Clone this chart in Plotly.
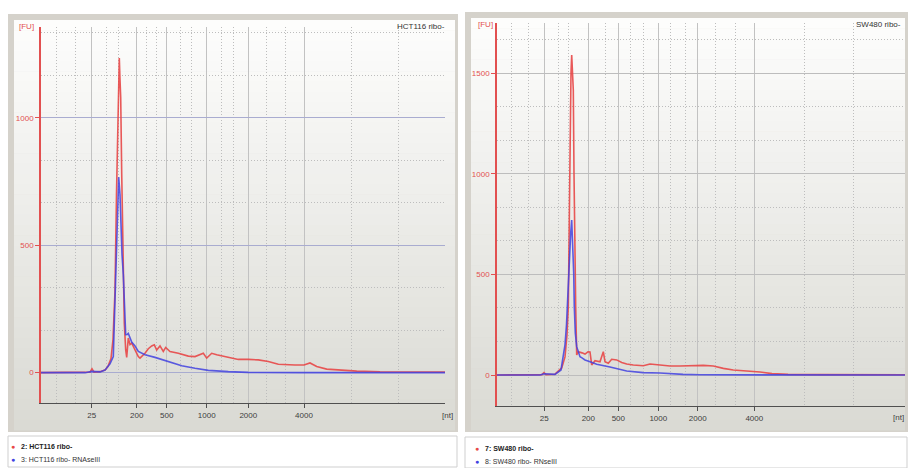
import plotly.graph_objects as go

W, H = 908, 468

# ---------------- data (x = migration time, s; y = fluorescence, FU) -------------
# Left panel: HCT116
hct_red_t = [20.0, 24.4, 24.9, 25.1, 25.3, 25.9, 26.4, 26.7, 27.0, 27.2, 27.4, 27.55, 27.7, 27.83,
             27.9, 27.97, 28.07, 28.17, 28.33, 28.47, 28.57, 28.73, 28.9, 29.07, 29.4, 29.73, 29.9,
             30.4, 30.73, 31.07, 31.33, 31.57, 31.9, 32.23, 32.47, 32.9, 33.73, 34.73, 35.4, 36.23,
             36.57, 37.07, 37.57, 38.4, 39.07, 39.73, 40.73, 41.73, 42.73, 43.73, 45.4, 46.3, 46.9,
             47.57, 48.57, 49.9, 51.57, 53.9, 60.4]
hct_red_fu = [0, 0, 2, 15, 2, 4, 10, 25, 55, 130, 320, 700, 1050, 1234,
              1150, 1081, 783, 495, 194, 89, 60, 136, 110, 116, 92, 63, 57,
              76, 94, 105, 109, 89, 105, 83, 99, 83, 76, 65, 63, 76,
              57, 76, 70, 63, 60, 52, 52, 50, 44, 33, 30, 30, 38,
              24, 14, 10, 6, 3, 2]
hct_blue_t = [20.0, 24.4, 25.1, 25.9, 26.4, 26.9, 27.23, 27.47, 27.63, 27.77, 27.9, 28.0, 28.1,
              28.23, 28.33, 28.47, 28.63, 28.73, 29.07, 29.4, 29.73, 30.4, 31.4, 32.07, 33.07,
              34.07, 35.4, 36.73, 38.73, 40.7, 45.9, 60.4]
hct_blue_fu = [0, 0, 5, 3, 10, 35, 63, 391, 653, 767, 699, 568, 464,
               385, 254, 149, 150, 154, 120, 105, 83, 70, 60, 52, 37,
               27, 17, 9, 4, 1, 0, 0]

# Right panel: SW480
sw_red_t = [20.0, 24.3, 24.5, 24.7, 24.9, 25.8, 26.47, 26.8, 27.0, 27.13, 27.23, 27.3, 27.4, 27.47,
            27.63, 27.7, 27.77, 27.87, 27.97, 28.13, 28.5, 28.8, 29.1, 29.3, 29.47, 29.8, 30.3,
            30.63, 30.8, 31.13, 31.47, 31.97, 32.47, 32.97, 33.63, 34.63, 35.3, 36.3, 37.3, 38.3,
            39.63, 40.63, 41.63, 42.63, 43.63, 44.97, 46.3, 47.5, 49.1, 52.3, 60.8]
sw_red_fu = [0, 0, 2, 12, 2, 4, 35, 90, 200, 339, 836, 1167, 1500, 1590,
             1416, 1003, 588, 339, 100, 116, 110, 104, 115, 114, 50, 71, 66,
             116, 66, 58, 78, 75, 62, 55, 50, 46, 55, 50, 45, 45,
             48, 48, 45, 33, 25, 21, 15, 7, 3, 2, 1]
sw_blue_t = [20.0, 24.3, 24.7, 25.8, 26.4, 26.8, 26.95, 27.1, 27.25, 27.37, 27.47, 27.57, 27.67,
             27.73, 27.83, 27.97, 28.13, 28.3, 28.5, 28.8, 29.3, 29.97, 31.3, 32.97, 34.6, 36.3,
             38.6, 40.3, 60.8]
sw_blue_fu = [0, 0, 6, 3, 25, 150, 250, 430, 600, 705, 770, 671, 507,
              339, 209, 141, 116, 91, 85, 75, 66, 53, 40, 20, 12, 10,
              3, 1, 0]

# tick positions (time) and labels (nt)
nt_labels = ["25", "200", "500", "1000", "2000", "4000"]
hct_ticks = [25.07, 29.57, 32.57, 36.57, 40.73, 46.3]
hct_minor = [21.57, 23.4, 26.57, 27.73, 30.57, 31.57, 33.9, 35.07, 38.07, 39.23,
             42.57, 44.4, 51.07, 55.73, 60.4]
sw_ticks = [24.73, 29.13, 32.13, 36.13, 40.07, 45.73]
sw_minor = [21.47, 23.13, 26.13, 27.13, 30.8, 33.3, 34.63, 37.3, 38.8, 41.8,
            43.8, 50.73, 55.63]
hct_yticks = [0, 500, 1000]
sw_yticks = [0, 500, 1000, 1500]

titles = ["HCT116 ribo-", "SW480 ribo-"]
legend_left = ["2: HCT116 ribo-", "3: HCT116 ribo- RNAseIII"]
legend_right = ["7: SW480 ribo-", "8: SW480 ribo- RNseIII"]

# ---------------- styling ----------------
RED = "rgb(232,72,72)"
BLUE = "rgb(66,66,225)"
AXRED = "rgb(226,80,80)"
FONT = "Liberation Sans"
FRAME = "#d5d2cb"
DOT = "1px,2px"


def px(xp):
    return xp / W


def py(yp):
    return 1 - yp / H


fig = go.Figure()

fig.add_trace(go.Scatter(x=hct_red_t, y=hct_red_fu, mode="lines", line=dict(color=RED, width=1.6),
                         opacity=0.9, xaxis="x", yaxis="y", hoverinfo="skip"))
fig.add_trace(go.Scatter(x=hct_blue_t, y=hct_blue_fu, mode="lines", line=dict(color=BLUE, width=1.6),
                         opacity=0.85, xaxis="x", yaxis="y", hoverinfo="skip"))
fig.add_trace(go.Scatter(x=sw_red_t, y=sw_red_fu, mode="lines", line=dict(color=RED, width=1.6),
                         opacity=0.9, xaxis="x2", yaxis="y2", hoverinfo="skip"))
fig.add_trace(go.Scatter(x=sw_blue_t, y=sw_blue_fu, mode="lines", line=dict(color=BLUE, width=1.6),
                         opacity=0.85, xaxis="x2", yaxis="y2", hoverinfo="skip"))

shapes = []
# frames, gradient interiors and legend boxes
panels = [dict(l=8, r=458, t=14, b=432, lt=436, lb=467),
          dict(l=465, r=908, t=12, b=432, lt=437, lb=468)]
for p in panels:
    shapes.append(dict(type="rect", xref="paper", yref="paper", x0=px(p["l"]), x1=px(p["r"]),
                       y0=py(p["b"]), y1=py(p["t"]), fillcolor=FRAME, line=dict(width=0), layer="below"))
    top, bot = p["t"] + 6, p["b"] - 2
    n = 40
    c0 = (253, 253, 252)
    c1 = (218, 218, 212)
    for i in range(n):
        f = i / (n - 1)
        col = "rgb(%d,%d,%d)" % tuple(round(c0[k] + (c1[k] - c0[k]) * f) for k in range(3))
        y0p = top + (bot - top) * i / n
        y1p = top + (bot - top) * (i + 1) / n
        shapes.append(dict(type="rect", xref="paper", yref="paper", x0=px(p["l"] + 6), x1=px(p["r"] - 3),
                           y0=py(y1p + 0.5), y1=py(y0p), fillcolor=col, line=dict(width=0), layer="below"))
    shapes.append(dict(type="rect", xref="paper", yref="paper", x0=px(p["l"]), x1=px(p["r"] - 1),
                       y0=py(p["lb"]), y1=py(p["lt"]), fillcolor="white",
                       line=dict(width=1, color="#cfcfcf"), layer="below"))

common_x = dict(showline=True, linecolor="#505050", linewidth=1, ticks="outside", ticklen=4,
                tickcolor="#505050", tickfont=dict(family=FONT, size=8, color="#404040"),
                showgrid=True, gridcolor="#c2c2c2", gridwidth=1, zeroline=False, tickmode="array",
                ticktext=nt_labels)
common_y = dict(showline=True, linecolor=AXRED, linewidth=1.5, ticks="outside", ticklen=4,
                tickcolor=AXRED, tickfont=dict(family=FONT, size=8, color=AXRED), showgrid=True,
                gridwidth=1, zeroline=False, tickmode="array")

fig.update_layout(
    width=W, height=H, margin=dict(l=0, r=0, t=0, b=0), paper_bgcolor="white",
    plot_bgcolor="rgba(0,0,0,0)", showlegend=False, shapes=shapes,
    xaxis=dict(common_x, domain=[px(41), px(445)], range=[20, 60.4], tickvals=hct_ticks, anchor="y",
               minor=dict(tickmode="array", tickvals=hct_minor, showgrid=True, griddash=DOT,
                          gridcolor="#bdbdbd", gridwidth=1)),
    yaxis=dict(common_y, domain=[py(403), py(27)], range=[-119, 1356], tickvals=hct_yticks,
               anchor="x", gridcolor="#a9acd0",
               minor=dict(dtick=500 / 3, tick0=0, showgrid=True, griddash=DOT,
                          gridcolor="#bdbdbd", gridwidth=1)),
    xaxis2=dict(common_x, domain=[px(497), px(905)], range=[20, 60.8], tickvals=sw_ticks, anchor="y2",
                minor=dict(tickmode="array", tickvals=sw_minor, showgrid=True, griddash=DOT,
                           gridcolor="#bdbdbd", gridwidth=1)),
    yaxis2=dict(common_y, domain=[py(406), py(23)], range=[-154, 1749], tickvals=sw_yticks,
                anchor="x2", gridcolor="#bdbdbd",
                minor=dict(dtick=500 / 3, tick0=0, showgrid=True, griddash=DOT,
                           gridcolor="#bdbdbd", gridwidth=1)),
)

ann = []


def text(x, y, s, color="#333333", anchor="left", size=8, bold=False):
    if bold:
        s = "<b>" + s + "</b>"
    ann.append(dict(xref="paper", yref="paper", x=px(x), y=py(y), text=s, showarrow=False,
                    xanchor=anchor, yanchor="middle", font=dict(family=FONT, size=size, color=color)))


# left panel texts
text(17, 26, "[FU]", AXRED)
text(447, 26, titles[0], "#333333", anchor="right")
text(440, 415, "[nt]", "#404040")
text(13, 446, "●", RED, anchor="center", size=7)
text(13, 459, "●", BLUE, anchor="center", size=7)
text(19, 446, legend_left[0], "#222222", bold=True, size=7)
text(19, 459, legend_left[1], "#333333", size=7)
# right panel texts
text(476, 24, "[FU]", AXRED)
text(903, 24, titles[1], "#333333", anchor="right")
text(906, 417, "[nt]", "#404040", anchor="right")
text(477, 448, "●", RED, anchor="center", size=7)
text(477, 461, "●", BLUE, anchor="center", size=7)
text(483, 448, legend_right[0], "#222222", bold=True, size=7)
text(483, 461, legend_right[1], "#333333", size=7)

fig.update_layout(annotations=ann)

fig.write_html("out.html")
